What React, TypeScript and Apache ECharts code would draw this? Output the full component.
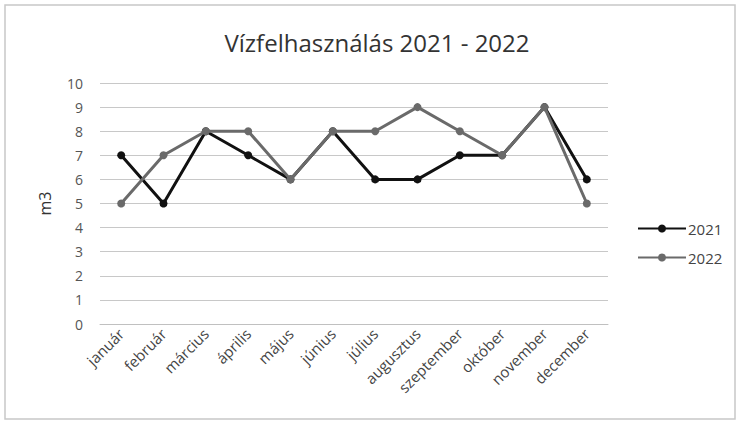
import React, { useEffect, useRef } from "react";
import * as echarts from "echarts";

const months = ["január", "február", "március", "április", "május", "június", "július", "augusztus", "szeptember", "október", "november", "december"];
const values2021 = [7, 5, 8, 7, 6, 8, 6, 6, 7, 7, 9, 6];
const values2022 = [5, 7, 8, 8, 6, 8, 8, 9, 8, 7, 9, 5];
const seriesNames = ["2021", "2022"];
const titleText = "Vízfelhasználás 2021 - 2022";
const yAxisName = "m3";

export default function App() {
  const ref = useRef<HTMLDivElement>(null);
  useEffect(() => {
    if (!ref.current) return;
    const chart = echarts.init(ref.current, null, { renderer: "svg" });
    const font = "Open Sans, Noto Sans, sans-serif";
    chart.setOption({
      animation: false,
      backgroundColor: "#fff",
      textStyle: { fontFamily: font },
      title: {
        text: titleText,
        left: 372,
        top: 25,
        textAlign: "center",
        textStyle: { fontSize: 24, fontWeight: "normal", color: "#333", fontFamily: font },
      },
      graphic: [
        {
          type: "rect",
          shape: { x: 5, y: 5, width: 730, height: 414 },
          style: { fill: "none", stroke: "#c8c8c8", lineWidth: 1.5 },
          silent: true,
        },
      ],
      legend: {
        orient: "vertical",
        left: 632,
        top: 216,
        itemGap: 14,
        itemWidth: 48,
        itemHeight: 10,
        textStyle: { fontSize: 15, color: "#444", fontFamily: font, padding: [0, 0, 0, -3] },
        data: seriesNames,
      },
      grid: { left: 100, right: 132, top: 83, bottom: 98 },
      xAxis: {
        type: "category",
        data: months,
        boundaryGap: true,
        axisLine: { show: true, lineStyle: { color: "#c0c0c0" } },
        axisTick: { show: false },
        axisLabel: { rotate: 45, fontSize: 15, color: "#444", margin: 7, interval: 0, fontFamily: font },
      },
      yAxis: {
        type: "value",
        min: 0,
        max: 10,
        interval: 1,
        name: yAxisName,
        nameLocation: "middle",
        nameGap: 47,
        nameRotate: 90,
        nameTextStyle: { fontSize: 16, color: "#333", fontFamily: font },
        axisLine: { show: false },
        axisTick: { show: false },
        axisLabel: { fontSize: 14, color: "#555", margin: 17, fontFamily: font },
        splitLine: { lineStyle: { color: "#c8c8c8", width: 1 } },
      },
      series: [
        {
          name: seriesNames[0],
          type: "line",
          data: values2021,
          symbol: "circle",
          symbolSize: 8,
          lineStyle: { color: "#111", width: 3 },
          itemStyle: { color: "#111" },
          z: 2,
        },
        {
          name: seriesNames[1],
          type: "line",
          data: values2022,
          symbol: "circle",
          symbolSize: 8,
          lineStyle: { color: "#6a6a6a", width: 3 },
          itemStyle: { color: "#6a6a6a" },
          z: 3,
        },
      ],
    });
    return () => chart.dispose();
  }, []);
  return <div ref={ref} style={{ width: 740, height: 422, position: "absolute", left: 0, top: 0 }} />;
}
